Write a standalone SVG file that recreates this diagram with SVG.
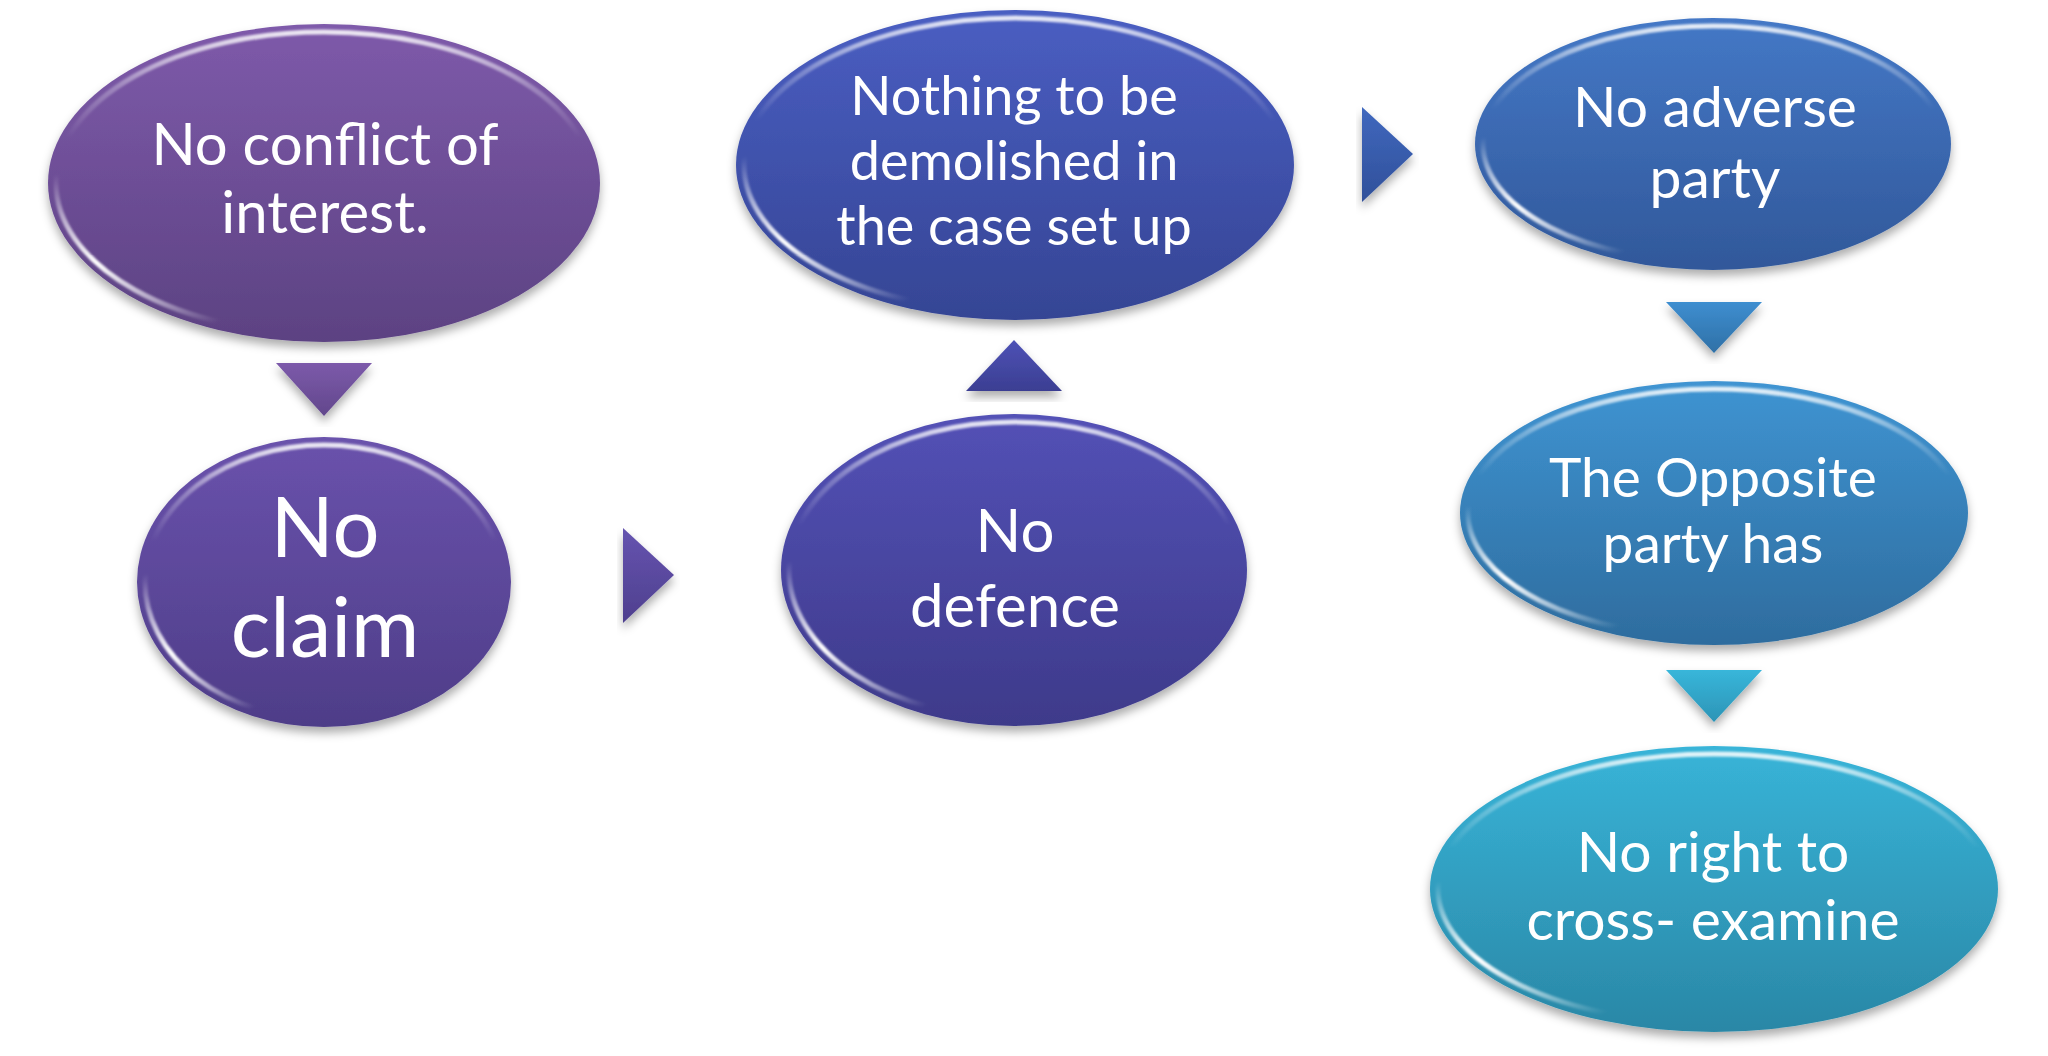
<svg xmlns="http://www.w3.org/2000/svg" width="2048" height="1056" viewBox="0 0 2048 1056">
<defs>
  <filter id="shadow" x="-10%" y="-10%" width="120%" height="130%">
    <feDropShadow dx="0" dy="6" stdDeviation="5" flood-color="#000" flood-opacity="0.32"/>
  </filter>
  <filter id="soft" x="-10%" y="-10%" width="120%" height="120%">
    <feGaussianBlur stdDeviation="1.2"/>
  </filter>
  <linearGradient id="rimTop" x1="0" y1="0" x2="0" y2="1">
    <stop offset="0" stop-color="#fff" stop-opacity="0.85"/>
    <stop offset="0.18" stop-color="#fff" stop-opacity="0.3"/>
    <stop offset="0.35" stop-color="#fff" stop-opacity="0"/>
  </linearGradient>
  <radialGradient id="rimLL" cx="0.08" cy="0.76" r="0.3">
    <stop offset="0" stop-color="#fff" stop-opacity="1"/>
    <stop offset="0.55" stop-color="#fff" stop-opacity="0.5"/>
    <stop offset="1" stop-color="#fff" stop-opacity="0"/>
  </radialGradient>
  <linearGradient id="g1" x1="0" y1="0" x2="0" y2="1"><stop offset="0" stop-color="#7E5AAA"/><stop offset="1" stop-color="#5C4282"/></linearGradient>
  <linearGradient id="g2" x1="0" y1="0" x2="0" y2="1"><stop offset="0" stop-color="#6A52AC"/><stop offset="1" stop-color="#4E3D88"/></linearGradient>
  <linearGradient id="g3" x1="0" y1="0" x2="0" y2="1"><stop offset="0" stop-color="#5351B6"/><stop offset="1" stop-color="#3E3A8A"/></linearGradient>
  <linearGradient id="g4" x1="0" y1="0" x2="0" y2="1"><stop offset="0" stop-color="#4A5EC2"/><stop offset="1" stop-color="#354594"/></linearGradient>
  <linearGradient id="g5" x1="0" y1="0" x2="0" y2="1"><stop offset="0" stop-color="#4478C6"/><stop offset="1" stop-color="#31589A"/></linearGradient>
  <linearGradient id="g6" x1="0" y1="0" x2="0" y2="1"><stop offset="0" stop-color="#3F94D2"/><stop offset="1" stop-color="#2E6C9E"/></linearGradient>
  <linearGradient id="g7" x1="0" y1="0" x2="0" y2="1"><stop offset="0" stop-color="#38B4D8"/><stop offset="1" stop-color="#2A87A6"/></linearGradient>
  <linearGradient id="t1" x1="0" y1="0" x2="0" y2="1"><stop offset="0" stop-color="#7C5AAA"/><stop offset="1" stop-color="#62478C"/></linearGradient>
  <linearGradient id="t2" x1="0" y1="0" x2="0" y2="1"><stop offset="0" stop-color="#6654B0"/><stop offset="1" stop-color="#4E3F8E"/></linearGradient>
  <linearGradient id="t3" x1="0" y1="0" x2="0" y2="1"><stop offset="0" stop-color="#4E52B6"/><stop offset="1" stop-color="#3B3E92"/></linearGradient>
  <linearGradient id="t4" x1="0" y1="0" x2="0" y2="1"><stop offset="0" stop-color="#4068BE"/><stop offset="1" stop-color="#30509A"/></linearGradient>
  <linearGradient id="t5" x1="0" y1="0" x2="0" y2="1"><stop offset="0" stop-color="#3E8ED0"/><stop offset="1" stop-color="#2F70A6"/></linearGradient>
  <linearGradient id="t6" x1="0" y1="0" x2="0" y2="1"><stop offset="0" stop-color="#38B6DA"/><stop offset="1" stop-color="#2C94B6"/></linearGradient>
</defs>
<style>
  .lbl { font-family: Lato, "Open Sans", "Liberation Sans", sans-serif; fill: #ffffff; text-anchor: middle; }
  .rt { fill: none; stroke: url(#rimTop); stroke-width: 5; }
  .rl { fill: none; stroke: url(#rimLL); stroke-width: 5; }
</style>
<rect width="2048" height="1056" fill="#ffffff"/>

<g id="connectors">
  <polygon points="276,363 372,363 324,416" fill="url(#t1)" filter="url(#shadow)"/>
  <polygon points="623,528 623,623 674,575" fill="url(#t2)" filter="url(#shadow)"/>
  <polygon points="966,391 1062,391 1014,340" fill="url(#t3)" filter="url(#shadow)"/>
  <polygon points="1362,107 1362,202 1413,154" fill="url(#t4)" filter="url(#shadow)"/>
  <polygon points="1666,302 1762,302 1714,353" fill="url(#t5)" filter="url(#shadow)"/>
  <polygon points="1666,670 1762,670 1714,722" fill="url(#t6)" filter="url(#shadow)"/>
</g>

<g id="node1">
  <ellipse cx="324" cy="183" rx="276" ry="159" fill="url(#g1)" filter="url(#shadow)"/>
  <ellipse class="rt" cx="324" cy="183" rx="268" ry="151" filter="url(#soft)"/>
  <ellipse class="rl" cx="324" cy="183" rx="268" ry="151" filter="url(#soft)"/>
  <text class="lbl" x="325" y="165" font-size="58">No conflict of</text>
  <text class="lbl" x="325" y="233" font-size="58">interest.</text>
</g>

<g id="node2">
  <ellipse cx="324" cy="582" rx="187" ry="145" fill="url(#g2)" filter="url(#shadow)"/>
  <ellipse class="rt" cx="324" cy="582" rx="179" ry="137" filter="url(#soft)"/>
  <ellipse class="rl" cx="324" cy="582" rx="179" ry="137" filter="url(#soft)"/>
  <text class="lbl" x="325" y="557" font-size="83">No</text>
  <text class="lbl" x="325" y="657" font-size="83">claim</text>
</g>

<g id="node3">
  <ellipse cx="1014" cy="570" rx="233" ry="156" fill="url(#g3)" filter="url(#shadow)"/>
  <ellipse class="rt" cx="1014" cy="570" rx="225" ry="148" filter="url(#soft)"/>
  <ellipse class="rl" cx="1014" cy="570" rx="225" ry="148" filter="url(#soft)"/>
  <text class="lbl" x="1015" y="552" font-size="60">No</text>
  <text class="lbl" x="1015" y="627" font-size="60">defence</text>
</g>

<g id="node4">
  <ellipse cx="1015" cy="165" rx="279" ry="155" fill="url(#g4)" filter="url(#shadow)"/>
  <ellipse class="rt" cx="1015" cy="165" rx="271" ry="147" filter="url(#soft)"/>
  <ellipse class="rl" cx="1015" cy="165" rx="271" ry="147" filter="url(#soft)"/>
  <text class="lbl" x="1014" y="115" font-size="54">Nothing to be</text>
  <text class="lbl" x="1014" y="180" font-size="54">demolished in</text>
  <text class="lbl" x="1014" y="245" font-size="54">the case set up</text>
</g>

<g id="node5">
  <ellipse cx="1713" cy="144" rx="238" ry="126" fill="url(#g5)" filter="url(#shadow)"/>
  <ellipse class="rt" cx="1713" cy="144" rx="230" ry="118" filter="url(#soft)"/>
  <ellipse class="rl" cx="1713" cy="144" rx="230" ry="118" filter="url(#soft)"/>
  <text class="lbl" x="1715" y="127" font-size="57">No adverse</text>
  <text class="lbl" x="1715" y="198" font-size="57">party</text>
</g>

<g id="node6">
  <ellipse cx="1714" cy="513" rx="254" ry="132" fill="url(#g6)" filter="url(#shadow)"/>
  <ellipse class="rt" cx="1714" cy="513" rx="246" ry="124" filter="url(#soft)"/>
  <ellipse class="rl" cx="1714" cy="513" rx="246" ry="124" filter="url(#soft)"/>
  <text class="lbl" x="1713" y="497" font-size="55">The Opposite</text>
  <text class="lbl" x="1713" y="563" font-size="55">party has</text>
</g>

<g id="node7">
  <ellipse cx="1714" cy="889" rx="284" ry="143" fill="url(#g7)" filter="url(#shadow)"/>
  <ellipse class="rt" cx="1714" cy="889" rx="276" ry="135" filter="url(#soft)"/>
  <ellipse class="rl" cx="1714" cy="889" rx="276" ry="135" filter="url(#soft)"/>
  <text class="lbl" x="1713" y="872" font-size="57">No right to</text>
  <text class="lbl" x="1713" y="940" font-size="57">cross- examine</text>
</g>
</svg>
